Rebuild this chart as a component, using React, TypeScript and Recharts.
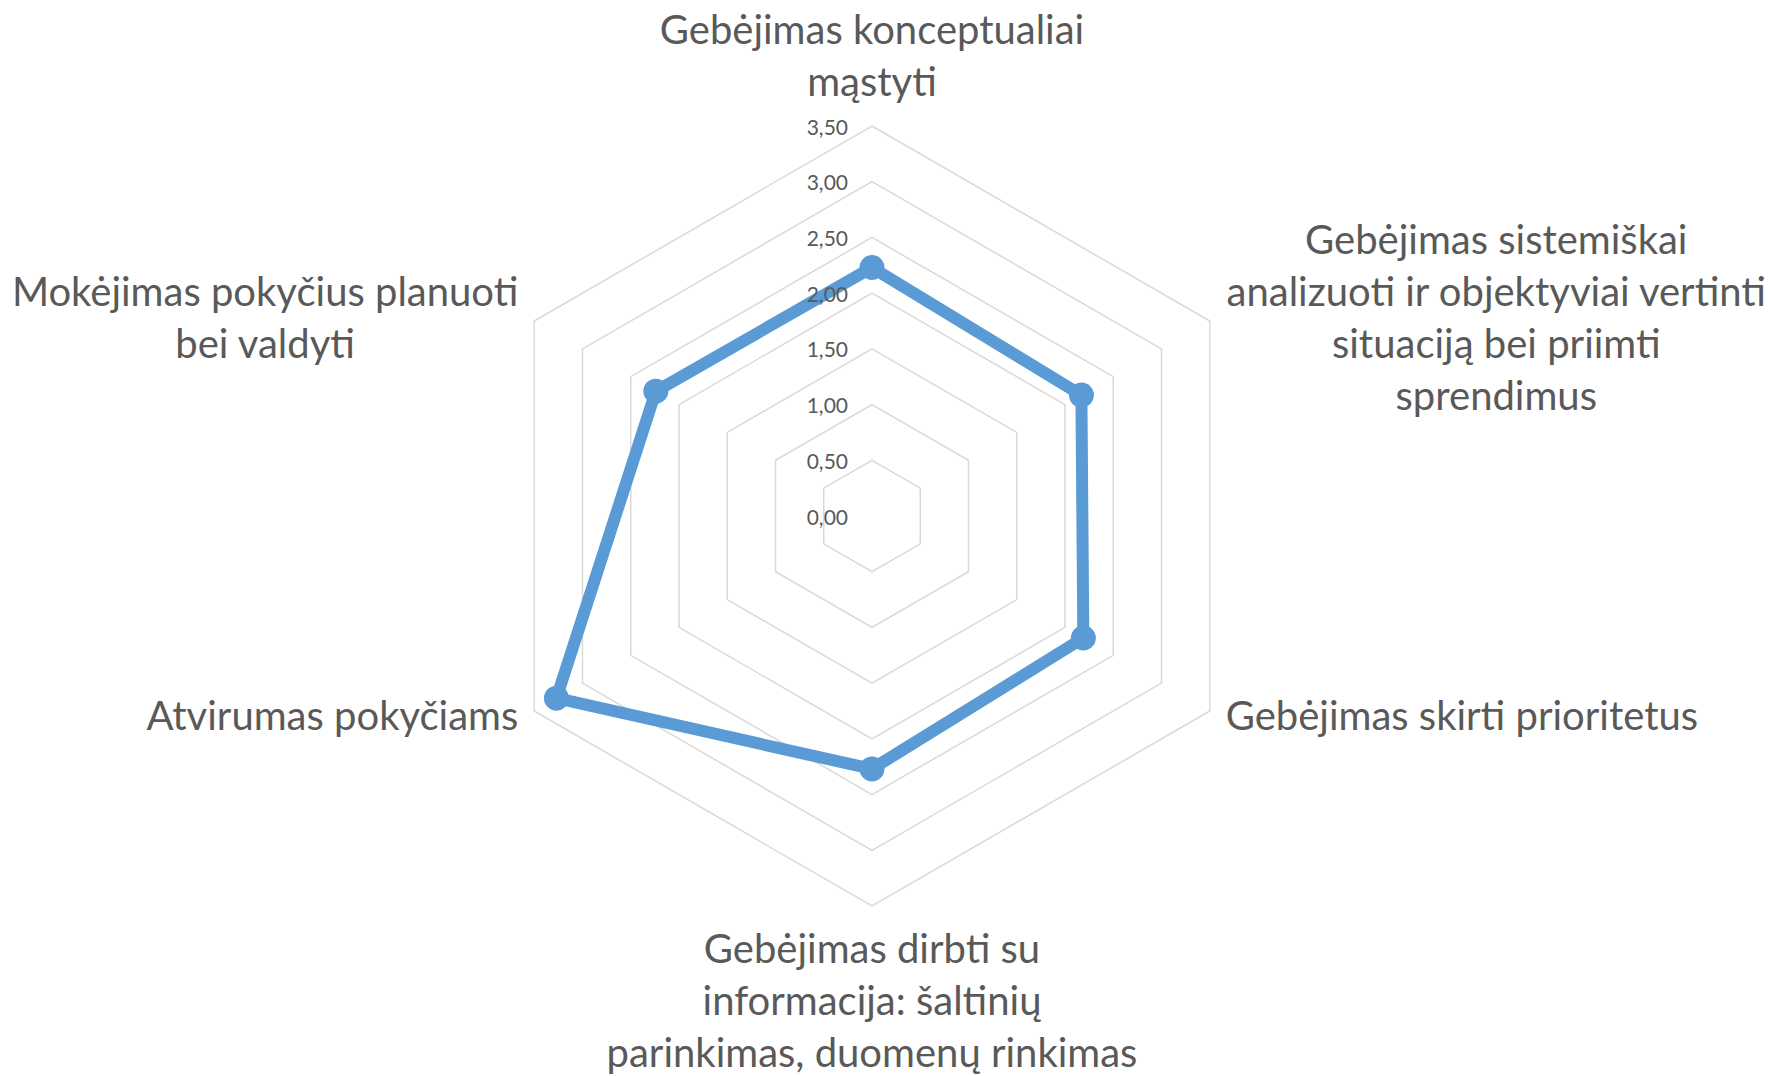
import { RadarChart, Radar, PolarGrid, PolarAngleAxis, PolarRadiusAxis } from "recharts"

// Excel-style wrapped category labels (line breaks as in the source chart)
const categories = [
  "Gebėjimas konceptualiai\nmąstyti",
  "Gebėjimas sistemiškai\nanalizuoti ir objektyviai vertinti\nsituaciją bei priimti\nsprendimus",
  "Gebėjimas skirti prioritetus",
  "Gebėjimas dirbti su\ninformacija: šaltinių\nparinkimas, duomenų rinkimas",
  "Atvirumas pokyčiams",
  "Mokėjimas pokyčius planuoti\nbei valdyti",
]

const scores = [2.23, 2.17, 2.19, 2.27, 3.27, 2.24]

const radiusTicks = [0, 0.5, 1, 1.5, 2, 2.5, 3, 3.5]

const chartData = categories.map((name, i) => ({ name, value: scores[i] }))

const W = 1768
const H = 1076
const CX = 872
const CY = 516
// recharts rounds this radius axis domain up to 4, so the chart radius is
// stretched so that the 3,50 ring lands where the outer ring should be
const RING_R = 390
const OUTER_R = (RING_R * 4) / 3.5
const LABEL_R = RING_R + 8
const FONT = "Lato, 'Open Sans', sans-serif"
const LABEL_SIZE = 40
const LINE_H = 52
const TEXT_COLOR = "#595959"
const BLUE = "#5b9bd5"

let measureCtx: CanvasRenderingContext2D | null = null
function textWidth(s: string) {
  if (!measureCtx) measureCtx = document.createElement("canvas").getContext("2d")
  if (!measureCtx) return s.length * LABEL_SIZE * 0.5
  measureCtx.font = `${LABEL_SIZE}px Lato`
  return measureCtx.measureText(s).width
}

function CategoryTick(props: any) {
  const { payload } = props
  const dx = props.x - CX
  const dy = props.y - CY
  const k = LABEL_R / Math.max(1, Math.hypot(dx, dy))
  const x = CX + dx * k
  const y = CY + dy * k
  const lines: string[] = String(payload.value).split("\n")
  const blockW = Math.max(...lines.map(textWidth))
  const n = lines.length
  let centerX = x
  let firstY = y - ((n - 1) * LINE_H) / 2
  if (Math.abs(x - CX) < 2) {
    // top or bottom label
    firstY = y < CY ? y - 37 - (n - 1) * LINE_H : y + 34
  } else if (x > CX) {
    centerX = x + 9 + blockW / 2
  } else {
    centerX = x - 9 - blockW / 2
  }
  return (
    <text fill={TEXT_COLOR} fontSize={LABEL_SIZE} fontFamily={FONT} textAnchor="middle">
      {lines.map((line, i) => (
        <tspan key={i} x={centerX} y={firstY + i * LINE_H} dominantBaseline="central">
          {line}
        </tspan>
      ))}
    </text>
  )
}

function RadiusTick(props: any) {
  const { x, y, payload } = props
  return (
    <text
      x={x - 24}
      y={y}
      fill={TEXT_COLOR}
      fontSize={21}
      fontFamily={FONT}
      textAnchor="end"
      dominantBaseline="central"
    >
      {Number(payload.value).toFixed(2).replace(".", ",")}
    </text>
  )
}

function Marker(props: any) {
  const { cx, cy } = props
  if (cx == null || cy == null) return null
  return <circle cx={cx} cy={cy} r={12.5} fill={BLUE} stroke="none" />
}

export default function App() {
  return (
    <div style={{ position: "absolute", left: 0, top: 0, width: W, height: H, background: "#fff" }}>
      <RadarChart width={W} height={H} cx={CX} cy={CY} outerRadius={OUTER_R} data={chartData}>
        <PolarGrid gridType="polygon" radialLines={false} stroke="#d9d9d9" strokeWidth={1.5} />
        <PolarAngleAxis dataKey="name" tick={<CategoryTick />} tickLine={false} axisLine={false} />
        <PolarRadiusAxis
          angle={90}
          type="number"
          domain={[0, 3.5]}
          allowDataOverflow
          ticks={radiusTicks as any}
          tickCount={8}
          axisLine={false}
          tickLine={false}
          tick={<RadiusTick />}
        />
        <Radar
          dataKey="value"
          stroke={BLUE}
          strokeWidth={12}
          strokeLinejoin="round"
          fill="none"
          fillOpacity={0}
          dot={(p: any) => <Marker key={p.index} {...p} />}
          isAnimationActive={false}
        />
      </RadarChart>
    </div>
  )
}
